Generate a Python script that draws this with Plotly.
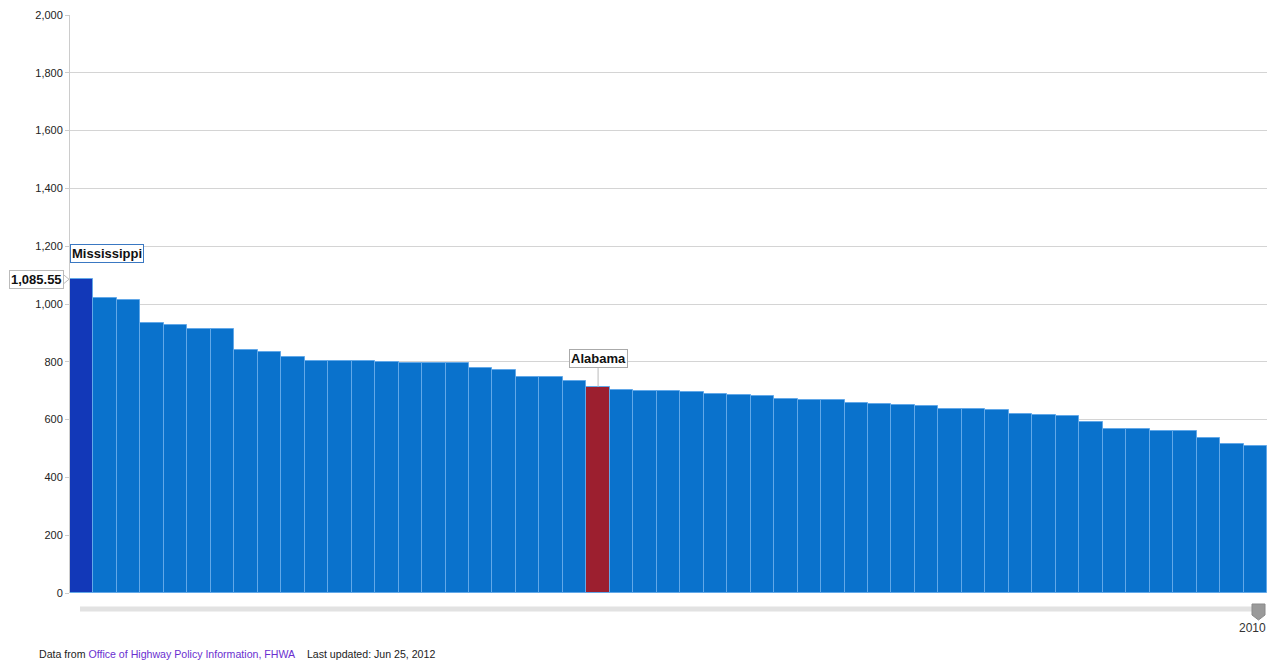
import plotly.graph_objects as go

# Ranked values for 2010 (51 entries, highest first)
ranks = list(range(1, 52))
values = [
    1085.55, 1022, 1015, 935, 928, 915, 915, 840, 833, 818,
    804, 804, 803, 801, 797, 795, 795, 780, 773, 749,
    749, 734, 713, 704, 700, 700, 694, 689, 686, 682,
    670, 667, 667, 656, 653, 650, 646, 637, 637, 634,
    620, 617, 613, 593, 569, 569, 561, 561, 535, 517,
    510,
]
highlight_names = {1: "Mississippi", 23: "Alabama"}
year_label = "2010"
y_ticks = [0, 200, 400, 600, 800, 1000, 1200, 1400, 1600, 1800, 2000]

BLUE = "#0a72cc"
SELECTED = "#1238b8"
COMPARE = "#9c1f2f"

W, H = 1277, 664
L, R, T, B = 70, 10, 15, 71
PW, PH = W - L - R, H - T - B


def px_x(px):
    return (px - L) / PW


def px_y(py):
    return (H - B - py) / PH


colors = []
for r in ranks:
    if r == 1:
        colors.append(SELECTED)
    elif r == 23:
        colors.append(COMPARE)
    else:
        colors.append(BLUE)

fig = go.Figure(
    go.Bar(
        x=ranks,
        y=values,
        marker=dict(color=colors, line=dict(color="#62a8e8", width=1)),
        hovertemplate="%{y:,.2f}<extra></extra>",
    )
)

fig.update_layout(
    width=W,
    height=H,
    margin=dict(l=L, r=R, t=T, b=B),
    paper_bgcolor="white",
    plot_bgcolor="white",
    bargap=0,
    showlegend=False,
    font=dict(family="Liberation Sans, Arial, sans-serif", size=11, color="#222"),
    xaxis=dict(
        range=[0.5, 51.5],
        showticklabels=False,
        showgrid=False,
        zeroline=False,
        ticks="",
    ),
    yaxis=dict(
        range=[0, 2000],
        tickvals=y_ticks,
        tickformat=",",
        showgrid=True,
        gridcolor="#d4d4d4",
        gridwidth=1,
        zeroline=False,
        showline=True,
        linecolor="#cccccc",
        ticks="outside",
        ticklen=4,
        tickcolor="#cccccc",
        tickfont=dict(size=11, color="#222"),
    ),
)

# Name labels over the highlighted bars
fig.add_annotation(
    x=0.5, y=values[0], xref="x", yref="y",
    xanchor="left", yanchor="bottom", yshift=16,
    text="<b>" + highlight_names[1] + "</b>",
    showarrow=False,
    font=dict(size=13, color="#111"),
    bgcolor="white", bordercolor="#3a78c2", borderwidth=1, borderpad=1,
)
fig.add_annotation(
    x=23, y=values[22], xref="x", yref="y",
    text="<b>" + highlight_names[23] + "</b>",
    showarrow=True, arrowhead=0, arrowwidth=1, arrowcolor="#bbbbbb",
    ax=0, ay=-28,
    font=dict(size=13, color="#111"),
    bgcolor="white", bordercolor="#aaaaaa", borderwidth=1, borderpad=1,
)

# Value callout on the y axis for the selected bar
fig.add_annotation(
    x=0, y=values[0], xref="paper", yref="y",
    xanchor="right", xshift=-6,
    text="<b>{:,.2f}</b>".format(values[0]),
    showarrow=False,
    font=dict(size=13, color="#111"),
    bgcolor="white", bordercolor="#bbbbbb", borderwidth=1, borderpad=1,
)
fig.add_shape(
    type="path", xref="paper", yref="y",
    xsizemode="pixel", ysizemode="pixel",
    xanchor=0, yanchor=values[0],
    path="M -7 -5 L -1 0 L -7 5 Z",
    fillcolor="white", line=dict(color="#bbbbbb", width=1),
)

# Time slider track and handle
fig.add_shape(
    type="line", xref="paper", yref="paper",
    x0=px_x(80), x1=px_x(1258), y0=px_y(609), y1=px_y(609),
    line=dict(color="#e2e2e2", width=5),
)
fig.add_shape(
    type="path", xref="paper", yref="paper",
    xsizemode="pixel", ysizemode="pixel",
    xanchor=px_x(1258.5), yanchor=px_y(604),
    path="M -6.5 0 L 6.5 0 L 6.5 -11 L 0 -16 L -6.5 -11 Z",
    fillcolor="#9a9a9a", line=dict(color="#8a8a8a", width=1),
)
fig.add_annotation(
    x=px_x(1252), y=px_y(628), xref="paper", yref="paper",
    xanchor="center", yanchor="middle",
    text=year_label, showarrow=False,
    font=dict(size=12, color="#333"),
)

# Source footer
fig.add_annotation(
    x=px_x(37), y=px_y(654), xref="paper", yref="paper",
    xanchor="left", yanchor="middle",
    text=(
        "Data from <span style='color:#6a2fd0'>Office of Highway Policy Information, FHWA</span>"
        "&nbsp;&nbsp;&nbsp; Last updated: Jun 25, 2012"
    ),
    showarrow=False,
    font=dict(size=10.6, color="#222"),
)

fig.write_html("out.html")
